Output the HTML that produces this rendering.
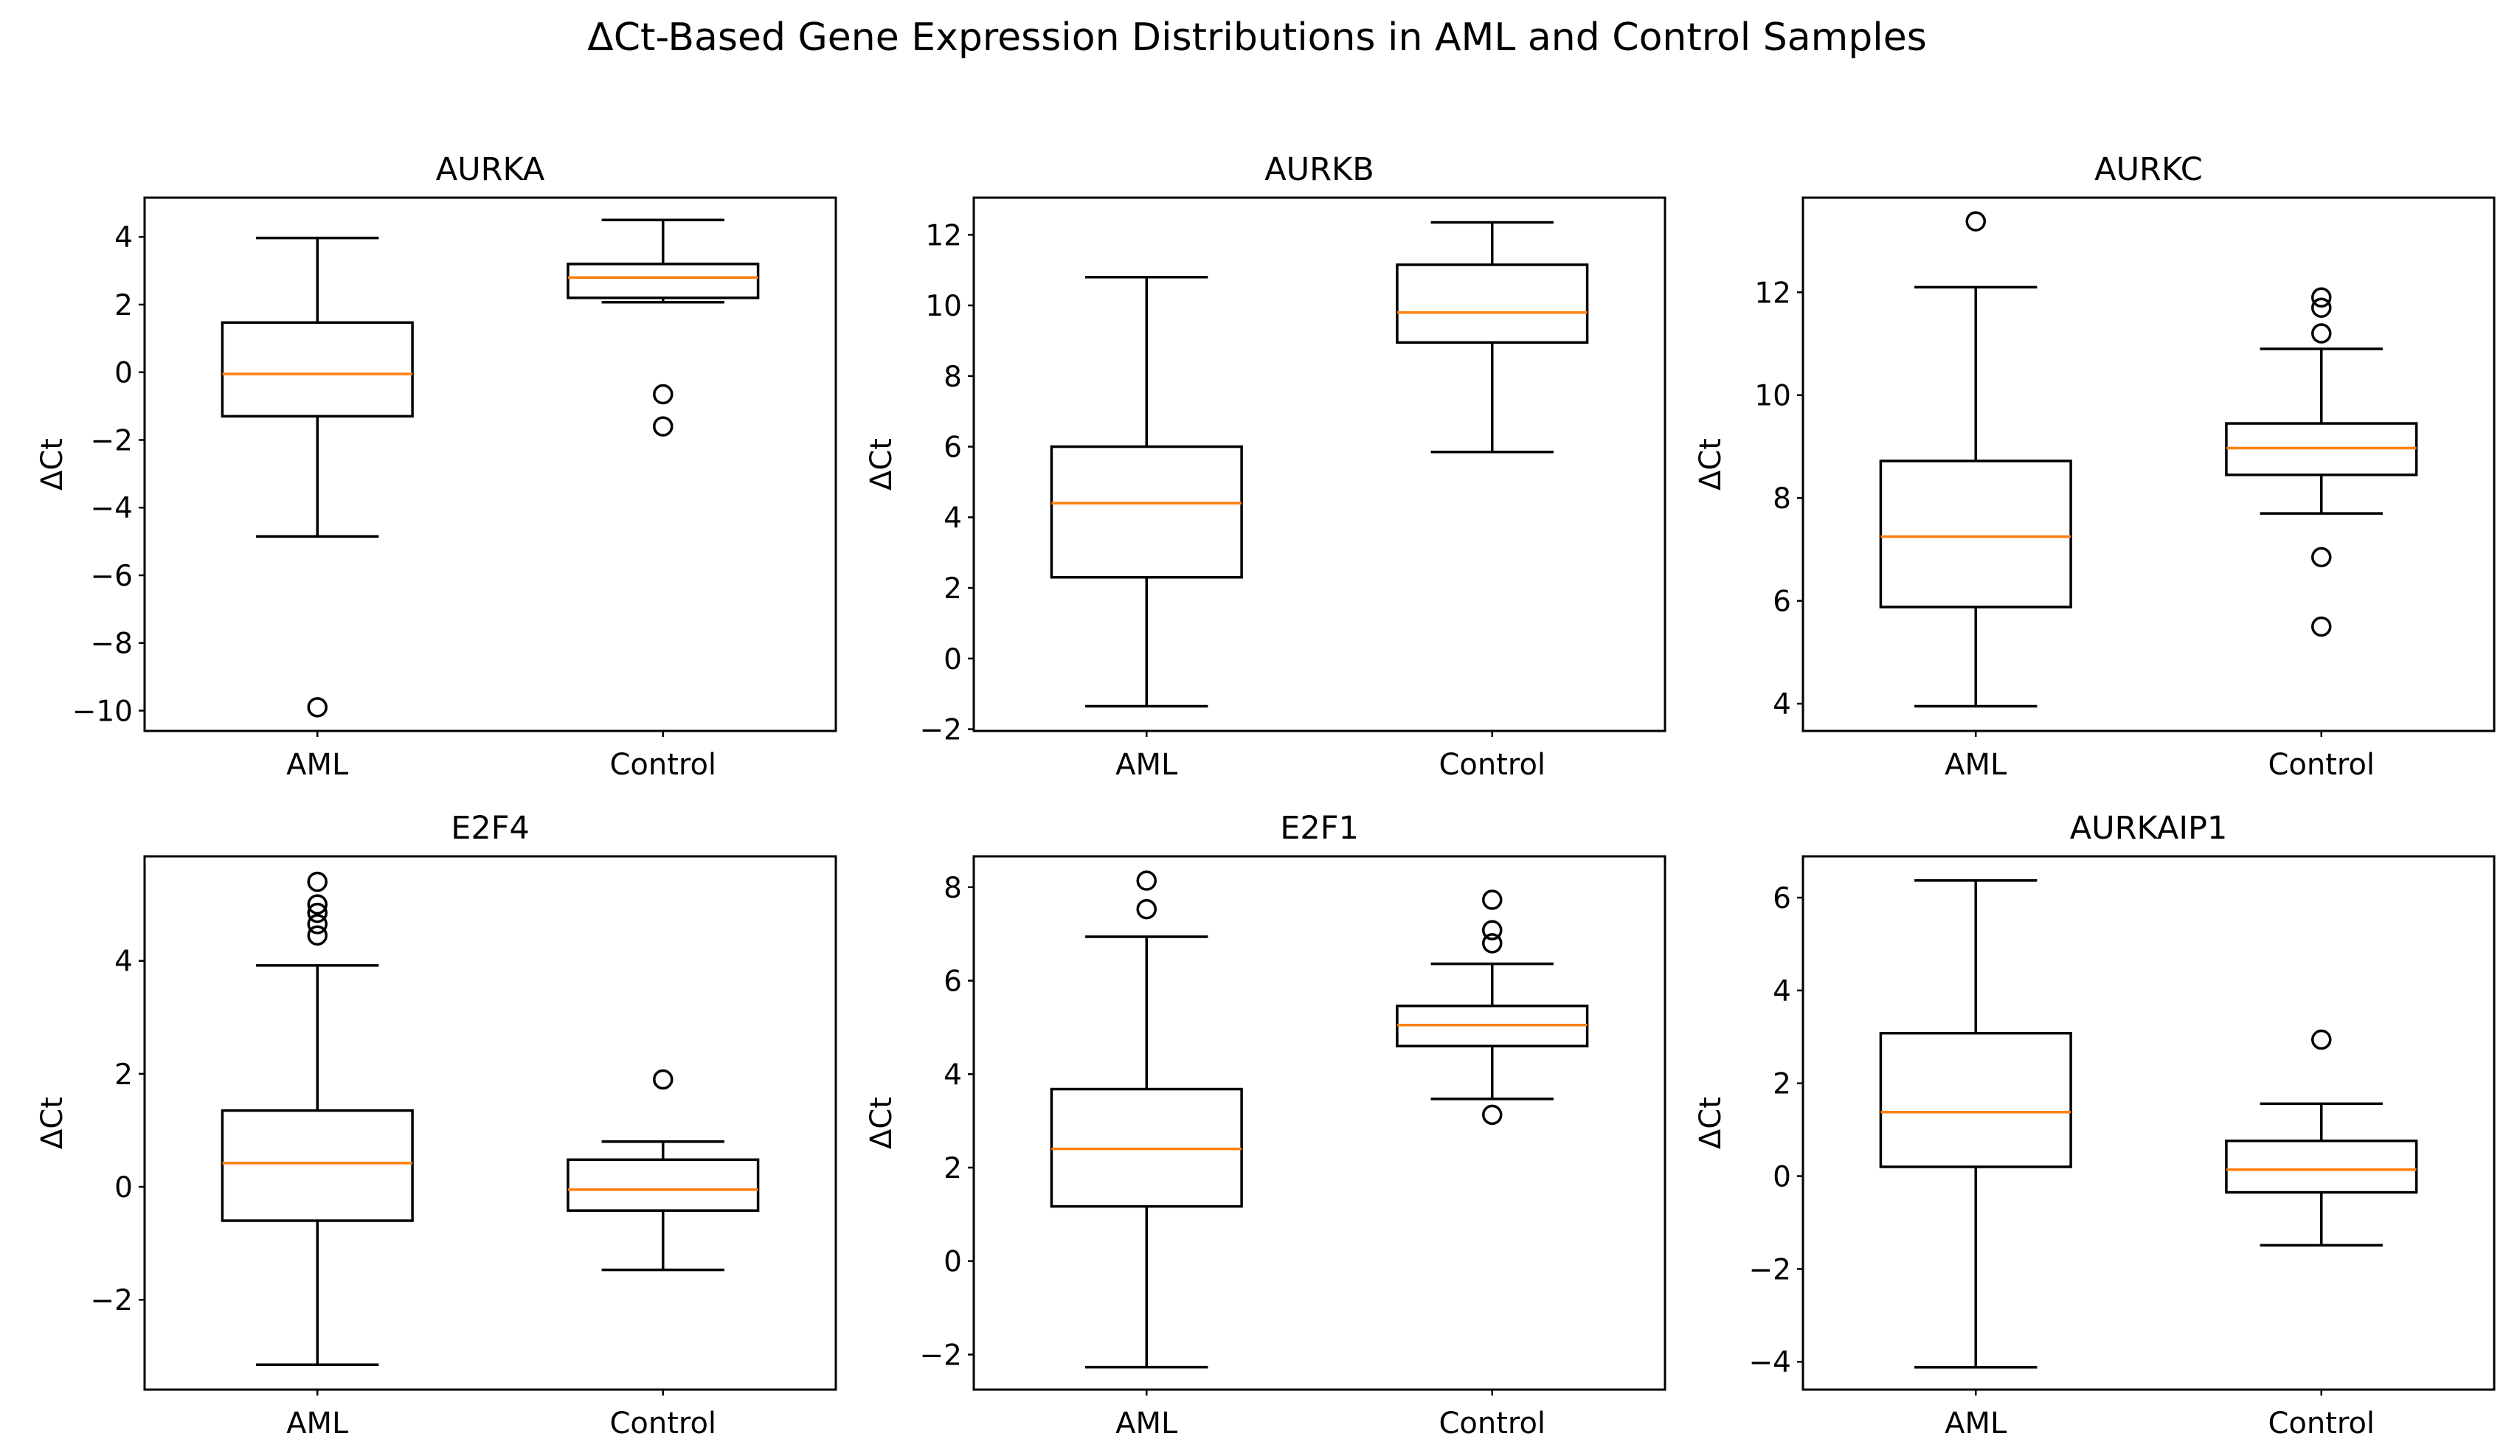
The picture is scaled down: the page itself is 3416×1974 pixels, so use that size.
<!DOCTYPE html>
<html><head><meta charset="utf-8"><style>
html,body{margin:0;padding:0;background:#fff;}
svg{display:block;font-family:"DejaVu Sans","Liberation Sans",sans-serif;}
</style></head><body>
<svg id="fig" width="3416" height="1974" viewBox="0 0 3416 1974" xmlns="http://www.w3.org/2000/svg">
<rect width="3416" height="1974" fill="#fff"/>
<text x="1704" y="68" font-size="52" text-anchor="middle">ΔCt-Based Gene Expression Distributions in AML and Control Samples</text>
</svg>
<script>
const genes = ["AURKA","AURKB","AURKC","E2F4","E2F1","AURKAIP1"];
const groups = ["AML","Control"];
// [low whisker, Q1, median, Q3, high whisker] per gene, per group
const amlStats = [[-4.85,-1.3,-0.05,1.47,3.97],[-1.35,2.3,4.4,6.0,10.8],[3.95,5.88,7.25,8.72,12.1],[-3.15,-0.6,0.42,1.35,3.92],[-2.27,1.17,2.4,3.68,6.94],[-4.12,0.2,1.38,3.08,6.37]];
const ctrlStats = [[2.07,2.2,2.8,3.2,4.5],[5.85,8.95,9.8,11.15,12.35],[7.7,8.45,8.97,9.45,10.9],[-1.47,-0.42,-0.05,0.48,0.8],[3.47,4.6,5.05,5.46,6.36],[-1.49,-0.35,0.14,0.76,1.56]];
const amlOutliers = [[-9.9],[],[13.38],[5.4,5.0,4.85,4.65,4.45],[8.14,7.53],[]];
const ctrlOutliers = [[-0.65,-1.6],[],[11.9,11.7,11.2,6.85,5.5],[1.9],[7.73,7.08,6.8,3.13],[2.94]];
const yMin = [-10.6,-2.05,3.47,-3.59,-2.75,-4.6];
const yMax = [5.16,13.05,13.84,5.85,8.66,6.89];
const yTicks = [[4,2,0,-2,-4,-6,-8,-10],[12,10,8,6,4,2,0,-2],[12,10,8,6,4],[4,2,0,-2],[8,6,4,2,0,-2],[6,4,2,0,-2,-4]];

const NS="http://www.w3.org/2000/svg";
const svg=document.getElementById('fig');
function mk(tag,attrs,parent){const e=document.createElementNS(NS,tag);for(const k in attrs)e.setAttribute(k,attrs[k]);(parent||svg).appendChild(e);return e;}
const colX=[196,1320,2444], rowY=[268,1161], AW=937, AH=723;
genes.forEach((g,i)=>{
  const L=colX[i%3], T=rowY[Math.floor(i/3)], B=T+AH;
  const grp=mk('g',{});
  
  
  const ys=v=>B-(v-yMin[i])/(yMax[i]-yMin[i])*AH;
  const xs=p=>L+(p-0.5)/2*AW;
  const t=mk('text',{x:L+AW/2,y:T-24,'font-size':43,'text-anchor':'middle'},grp);t.textContent=g;
  
  
  const yl=mk('text',{x:0,y:0,'font-size':40,'text-anchor':'middle',transform:`translate(${L-112},${T+AH/2}) rotate(-90)`},grp);yl.textContent='ΔCt';
  
  
  yTicks[i].forEach(v=>{
    const y=ys(v);
    mk('line',{x1:L-8,x2:L,y1:y,y2:y,stroke:'#000','stroke-width':2.5},grp);
    const tl=mk('text',{x:L-16,y:y+14,'font-size':39,'text-anchor':'end'},grp);
    tl.textContent=v<0?'−'+Math.abs(v):String(v);
    
    
  });
  groups.forEach((gn,j)=>{
    const x=xs(j+1);
    mk('line',{x1:x,x2:x,y1:B,y2:B+8,stroke:'#000','stroke-width':2.5},grp);
    const xl=mk('text',{x:x,y:B+59,'font-size':40,'text-anchor':'middle'},grp);xl.textContent=gn;
    
    
    const s=(j===0?amlStats:ctrlStats)[i], o=(j===0?amlOutliers:ctrlOutliers)[i];
    const bw=0.55/2*AW/2, cw=0.355/2*AW/2;
    const bx=mk('g',{},grp);
    
    
    const sw=3.5;
    mk('line',{x1:x,x2:x,y1:ys(s[0]),y2:ys(s[1]),stroke:'#000','stroke-width':sw},bx);
    mk('line',{x1:x,x2:x,y1:ys(s[3]),y2:ys(s[4]),stroke:'#000','stroke-width':sw},bx);
    mk('line',{x1:x-cw,x2:x+cw,y1:ys(s[0]),y2:ys(s[0]),stroke:'#000','stroke-width':sw},bx);
    mk('line',{x1:x-cw,x2:x+cw,y1:ys(s[4]),y2:ys(s[4]),stroke:'#000','stroke-width':sw},bx);
    mk('rect',{x:x-bw,y:ys(s[3]),width:2*bw,height:ys(s[1])-ys(s[3]),fill:'none',stroke:'#000','stroke-width':sw},bx);
    mk('line',{x1:x-bw,x2:x+bw,y1:ys(s[2]),y2:ys(s[2]),stroke:'#ff7f0e','stroke-width':sw},bx);
    o.forEach(v=>{
      const c=mk('circle',{cx:x,cy:ys(v),r:12,fill:'none',stroke:'#000','stroke-width':3.5},bx);
      
      
    });
  });
  mk('rect',{x:L,y:T,width:AW,height:AH,fill:'none',stroke:'#000','stroke-width':3},grp);
});
</script>
</body></html>
